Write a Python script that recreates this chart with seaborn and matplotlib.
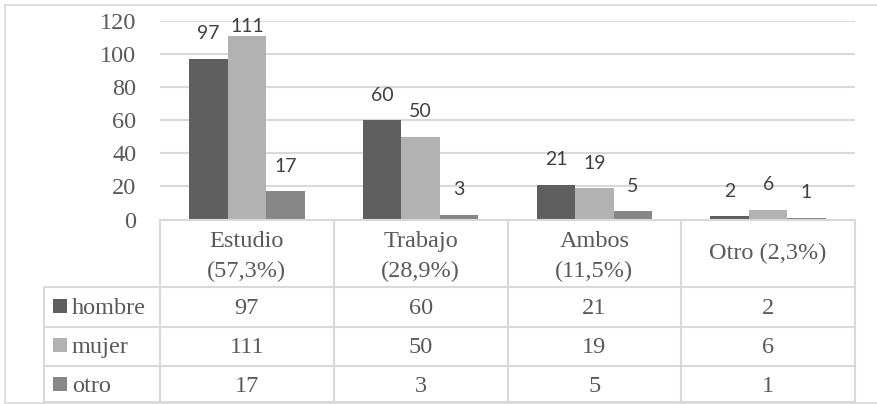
import matplotlib
matplotlib.use("Agg")
import matplotlib.pyplot as plt
import seaborn as sns
import pandas as pd
from matplotlib.transforms import blended_transform_factory
from matplotlib.lines import Line2D
from matplotlib.patches import Rectangle

# ---- data ----
categories = ["Estudio\n(57,3%)", "Trabajo\n(28,9%)", "Ambos\n(11,5%)", "Otro (2,3%)"]
series = ["hombre", "mujer", "otro"]
hombre = [97, 60, 21, 2]
mujer = [111, 50, 19, 6]
otro = [17, 3, 5, 1]
yticks = [0, 20, 40, 60, 80, 100, 120]

colors = {"hombre": "#5f5f5f", "mujer": "#b2b2b2", "otro": "#878787"}
values = {"hombre": hombre, "mujer": mujer, "otro": otro}

rows = []
for s in series:
    for c, v in zip(categories, values[s]):
        rows.append({"cat": c, "serie": s, "val": v})
df = pd.DataFrame(rows)

sns.set_style("white")
SERIF = ["Liberation Serif", "DejaVu Serif"]
SANS = ["Lato", "DejaVu Sans"]
plt.rcParams["font.family"] = SERIF
TXT = "#595959"
GRID = "#d9d9d9"
FS = 17.5

W, H = 878, 404
fig = plt.figure(figsize=(W / 100, H / 100), dpi=100)
y0, y120 = 219.5, 20.7
ax = fig.add_axes([160 / W, (H - y0) / H, (855 - 160) / W, (y0 - y120) / H])

sns.barplot(data=df, x="cat", y="val", hue="serie", order=categories,
            hue_order=series, palette=colors, width=0.664, dodge=True,
            saturation=1, errorbar=None, legend=False, linewidth=0, ax=ax)

ax.set_xlim(-0.5, len(categories) - 0.5)
ax.set_ylim(0, 120)
ax.set_yticks(yticks)
ax.set_yticklabels([str(t) for t in yticks], fontsize=FS, color=TXT, family=SERIF)
ax.tick_params(axis="y", length=0, pad=17)
ax.set_xticks([])
ax.set_xlabel("")
ax.set_ylabel("")
for sp in ax.spines.values():
    sp.set_visible(False)
ax.set_axisbelow(True)
ax.yaxis.grid(True, color=GRID, lw=1.5)
ax.set_facecolor("none")

# data labels
px_per_unit = (y0 - y120) / 120
off = 25 / px_per_unit
top_lim = (y0 - 27) / px_per_unit
for cont in ax.containers:
    for bar in cont:
        v = bar.get_height()
        x = bar.get_x() + bar.get_width() / 2
        ly = min(v + off, top_lim)
        ax.text(x, ly, f"{int(round(v))}", ha="center", va="center",
                family=SANS, fontsize=14, color="#404040", clip_on=False)

# ---- data table ----
tr = blended_transform_factory(ax.transData, fig.transFigure)
def fy(py):
    return (H - py) / H

lw = 1.5
n = len(categories)
header_top = 220
row_edges = [287, 326.5, 366, 403]
baselines = [314, 353, 392]
left_px = 44
fig.add_artist(Line2D([-0.5, n - 0.5], [fy(header_top)] * 2, transform=tr, color=GRID, lw=lw))
for yy in row_edges[:-1]:
    fig.add_artist(Line2D([left_px / W, 855 / W], [fy(yy)] * 2, transform=fig.transFigure, color=GRID, lw=lw))
fig.add_artist(Line2D([left_px / W, 855 / W], [fy(402)] * 2, transform=fig.transFigure, color=GRID, lw=lw))
for i in range(n + 1):
    xx = i - 0.5
    fig.add_artist(Line2D([xx, xx], [fy(header_top), fy(row_edges[-1])], transform=tr, color=GRID, lw=lw))
fig.add_artist(Line2D([left_px / W] * 2, [fy(row_edges[0]), fy(row_edges[-1])], transform=fig.transFigure, color=GRID, lw=lw))

for i, c in enumerate(categories):
    lines = c.split("\n")
    bls = [247, 277] if len(lines) == 2 else [259]
    for line, bl in zip(lines, bls):
        fig.text(i, fy(bl), line, transform=tr, ha="center", va="baseline",
                 fontsize=FS, color=TXT)

for r, s in enumerate(series):
    bl = baselines[r]
    fig.add_artist(Rectangle((53 / W, fy(bl - 1)), 14 / W, 14 / H, transform=fig.transFigure,
                             color=colors[s], lw=0))
    fig.text(72 / W, fy(bl), s, ha="left", va="baseline", fontsize=FS, color=TXT)
    for i, v in enumerate(values[s]):
        fig.text(i, fy(bl), str(v), transform=tr, ha="center", va="baseline",
                 fontsize=FS, color=TXT)

# outer frame
fig.add_artist(Line2D([5 / W, 5 / W], [fy(5), fy(403)], transform=fig.transFigure, color=GRID, lw=1.2))
fig.add_artist(Line2D([5 / W, 1.0], [fy(5), fy(5)], transform=fig.transFigure, color=GRID, lw=1.2))
fig.add_artist(Line2D([5 / W, 1.0], [fy(403), fy(403)], transform=fig.transFigure, color=GRID, lw=1.2))

fig.savefig("out.png", dpi=100)
